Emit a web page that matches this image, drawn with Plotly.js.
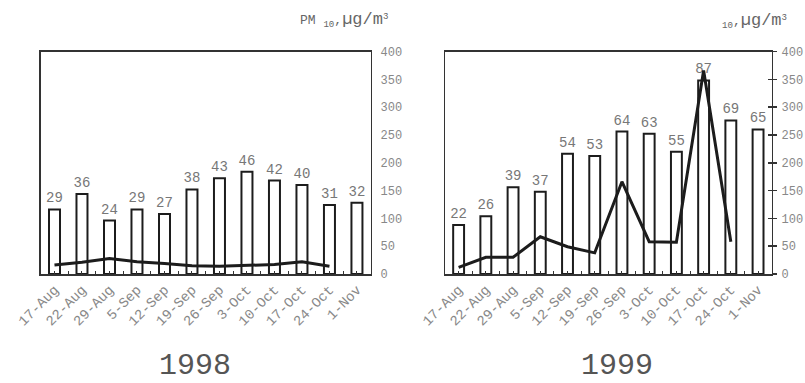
<!DOCTYPE html>
<html>
<head>
<meta charset="utf-8">
<script src="https://cdn.plot.ly/plotly-3.0.1.min.js"></script>
<style>html,body{margin:0;padding:0;background:#fff;}#chart{width:805px;height:383px;}</style>
</head>
<body>
<div id="chart"></div>
<script>
const categories = ["17-Aug","22-Aug","29-Aug","5-Sep","12-Sep","19-Sep","26-Sep","3-Oct","10-Oct","17-Oct","24-Oct","1-Nov"];

const bars1998 = [116,144,96,116,108,152,172,184,168,160,124,128];
const labels1998 = ["29","36","24","29","27","38","43","46","42","40","31","32"];
const line1998 = [16,21,28,22,19,15,14,15,17,22,14];

const bars1999 = [88,104,156,148,216,212,256,252,220,348,276,260];
const labels1999 = ["22","26","39","37","54","53","64","63","55","87","69","65"];
const line1999 = [12,30,30,67,49,38,166,58,57,366,58];

const idx = categories.map((c, i) => i);
const MONO = "Liberation Mono, Courier New, monospace";
const INK = "#1c1c1c";
const GREY = "#888";

function barTrace(vals, labels, xa, ya) {
  return {
    type: "bar", x: idx.slice(0, vals.length), y: vals, xaxis: xa, yaxis: ya,
    width: 0.4,
    marker: {color: "#fff", line: {color: INK, width: 2}},
    text: labels, textposition: "outside", constraintext: "none",
    textfont: {family: MONO, size: 14, color: "#777"},
    cliponaxis: false, hoverinfo: "skip"
  };
}
function lineTrace(vals, xa, ya) {
  return {
    type: "scatter", mode: "lines", x: idx.slice(0, vals.length), y: vals,
    xaxis: xa, yaxis: ya, line: {color: INK, width: 3}, hoverinfo: "skip",
    cliponaxis: false
  };
}

const data = [
  barTrace(bars1998, labels1998, "x", "y"),
  lineTrace(line1998, "x", "y"),
  barTrace(bars1999, labels1999, "x2", "y2"),
  lineTrace(line1999, "x2", "y3")
];

function xAxis(domain, anchor) {
  return {
    domain: domain, anchor: anchor, range: [-0.5, 11.5],
    tickmode: "array", tickvals: idx, ticktext: categories, tickangle: -45,
    ticks: "inside", ticklen: 3, tickcolor: "#333", tickwidth: 1,
    minor: {dtick: 0.5, tick0: -0.5, ticks: "inside", ticklen: 3, tickcolor: "#333", tickwidth: 1},
    showline: true, linecolor: "#333", linewidth: 2, mirror: true,
    showgrid: false, zeroline: false, fixedrange: true,
    tickfont: {family: MONO, size: 14, color: GREY}
  };
}
const yDomain = [0.2846, 0.8655];
function yAxis(anchor, ticks) {
  return {
    domain: yDomain, anchor: anchor, side: "right", range: [0, 400],
    tickmode: "linear", tick0: 0, dtick: 50,
    ticks: ticks, ticklen: 4, tickcolor: "#333", tickwidth: 1.5,
    ticklabelstandoff: ticks === "" ? 6 : 2,
    showline: true, linecolor: "#333", linewidth: 1.5, mirror: true,
    showgrid: false, zeroline: false, fixedrange: true,
    tickfont: {family: MONO, size: 12, color: GREY}
  };
}

const layout = {
  width: 805, height: 383,
  margin: {l: 0, r: 0, t: 0, b: 0},
  paper_bgcolor: "#fff", plot_bgcolor: "#fff",
  showlegend: false, bargap: 0.6,
  xaxis: xAxis([0.0506, 0.4605], "y"),
  yaxis: yAxis("x", ""),
  xaxis2: xAxis([0.5528, 0.9586], "y2"),
  yaxis2: yAxis("x2", "outside"),
  yaxis3: Object.assign(yAxis("x2", "inside"), {overlaying: "y2", showticklabels: false}),
  annotations: [
    {xref: "paper", yref: "paper", x: 0.2422, y: 0.045, xanchor: "center", yanchor: "middle",
     text: "1998", showarrow: false, font: {family: MONO, size: 30, color: "#555"}},
    {xref: "paper", yref: "paper", x: 0.7665, y: 0.045, xanchor: "center", yanchor: "middle",
     text: "1999", showarrow: false, font: {family: MONO, size: 30, color: "#555"}},
    {xref: "paper", yref: "paper", x: 0.484, y: 0.948, xanchor: "right", yanchor: "middle",
     text: "PM <sub>10</sub>,<span style='font-size:17px'>µg/m</span><sup>3</sup>", showarrow: false,
     font: {family: MONO, size: 13, color: "#666"}},
    {xref: "paper", yref: "paper", x: 0.98, y: 0.944, xanchor: "right", yanchor: "middle",
     text: "<sub>10</sub>,<span style='font-size:17px'>µg/m</span><sup>3</sup>", showarrow: false,
     font: {family: MONO, size: 13, color: "#666"}}
  ]
};

Plotly.newPlot("chart", data, layout, {staticPlot: true, displayModeBar: false});
</script>
</body>
</html>
